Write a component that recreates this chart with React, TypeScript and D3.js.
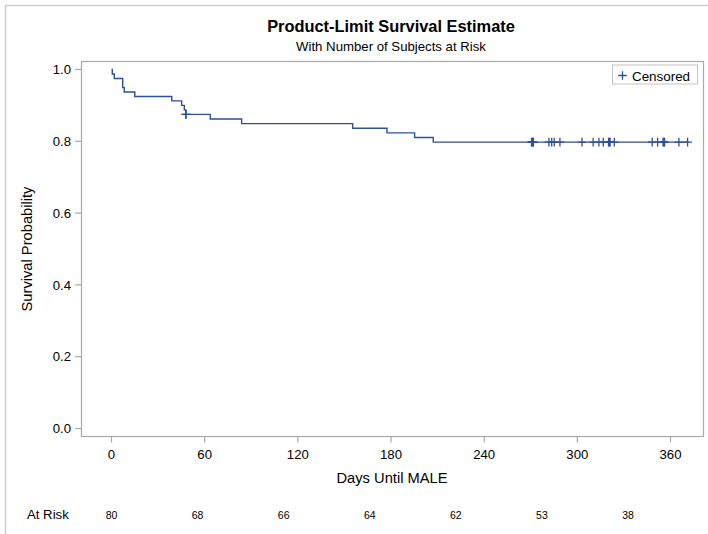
import React from "react";
import * as d3 from "d3";

// ---- data ----
const eventTimes = [0, 0.5, 1.8, 7.2, 8.2, 15.0, 38.8, 45.2, 46.9, 47.8, 63.6, 83.8, 155.3, 177.4, 195.2, 207.2];
const survival = [1, 0.9875, 0.975, 0.95, 0.9375, 0.925, 0.9125, 0.9, 0.8875, 0.875, 0.8621, 0.8493, 0.8364, 0.8236, 0.8107, 0.7978];
const lastTime = 372;
const censorTimes = [47.8, 48.0, 270.5, 270.9, 271.3, 271.7, 281.7, 283.5, 285.1, 288.8, 303.0, 310.2, 313.9, 316.7, 320.1, 320.6, 321.1, 323.8, 348.2, 351.7, 355.2, 355.7, 356.2, 365.4, 371.0];
const xTicks = [0, 60, 120, 180, 240, 300, 360];
const yTicks = [0, 0.2, 0.4, 0.6, 0.8, 1.0];
const atRiskTimes = [0, 60, 120, 180, 240, 300, 360];
const atRiskCounts = [80, 68, 66, 64, 62, 53, 38];

const W = 708;
const H = 534;
const frame = { left: 81.5, top: 61.5, right: 703.5, bottom: 436.5 };
const LINE = "#2E4F9E";
const FONT = "'Liberation Sans', Arial, sans-serif";

function survAt(t: number): number {
  let s = 1;
  for (let i = 0; i < eventTimes.length; i++) {
    if (eventTimes[i] <= t) s = survival[i];
  }
  return s;
}

export default function App() {
  const x = d3.scaleLinear().domain([0, 360]).range([111.5, 670.5]);
  const y = d3.scaleLinear().domain([0, 1]).range([428.5, 69.5]);
  // the at-risk row in the reference uses its own, narrower spacing
  const xRisk = d3.scaleLinear().domain([0, 360]).range([111.5, 628]);

  const pts: [number, number][] = eventTimes.map((t, i) => [t, survival[i]]);
  pts.push([lastTime, survival[survival.length - 1]]);
  const line = d3
    .line<[number, number]>()
    .x((d) => x(d[0]))
    .y((d) => y(d[1]))
    .curve(d3.curveStepAfter);

  const plus = (cx: number, cy: number, r: number) =>
    `M${cx - r},${cy}H${cx + r}M${cx},${cy - r}V${cy + r}`;

  return (
    <svg
      width={W}
      height={H}
      style={{ position: "absolute", left: 0, top: 0, background: "#fff" }}
      fontFamily={FONT}
    >
      <rect x={0} y={0} width={W} height={H} fill="#fff" />
      {/* outer border */}
      <path d={`M5.5,${H}V5.5H${W}`} fill="none" stroke="#CFCFCF" strokeWidth={1.5} />

      {/* titles */}
      <text x={391} y={31.5} textAnchor="middle" fontSize={16.4} fontWeight="bold" fill="#000">
        Product-Limit Survival Estimate
      </text>
      <text x={391} y={51} textAnchor="middle" fontSize={13.2} fill="#000">
        With Number of Subjects at Risk
      </text>

      {/* frame */}
      <rect
        x={frame.left}
        y={frame.top}
        width={frame.right - frame.left}
        height={frame.bottom - frame.top}
        fill="none"
        stroke="#A6A9AD"
        strokeWidth={1.2}
      />

      {/* y axis */}
      {yTicks.map((v) => (
        <g key={"y" + v}>
          <line x1={75} x2={frame.left} y1={y(v)} y2={y(v)} stroke="#A6A9AD" strokeWidth={1.2} />
          <text x={71} y={y(v) + 4.6} textAnchor="end" fontSize={13.2} fill="#000">
            {d3.format(".1f")(v)}
          </text>
        </g>
      ))}
      <text
        transform={`translate(32,${(frame.top + frame.bottom) / 2}) rotate(-90)`}
        textAnchor="middle"
        fontSize={14.7}
        fill="#000"
      >
        Survival Probability
      </text>

      {/* x axis */}
      {xTicks.map((v) => (
        <g key={"x" + v}>
          <line x1={x(v)} x2={x(v)} y1={frame.bottom} y2={frame.bottom + 6} stroke="#A6A9AD" strokeWidth={1.2} />
          <text x={x(v)} y={458.5} textAnchor="middle" fontSize={13.2} fill="#000">
            {v}
          </text>
        </g>
      ))}
      <text x={392} y={483} textAnchor="middle" fontSize={14.7} fill="#000">
        Days Until MALE
      </text>

      {/* survival curve */}
      <path d={line(pts) || ""} fill="none" stroke={LINE} strokeWidth={1.4} />
      {censorTimes.map((t, i) => (
        <path key={"c" + i} d={plus(x(t), y(survAt(t)), 4.3)} stroke={LINE} strokeWidth={1.3} fill="none" />
      ))}

      {/* legend */}
      <rect x={612.5} y={65} width={85} height={19} fill="#fff" stroke="#C4C4C4" strokeWidth={1} />
      <path d={plus(622.5, 75.5, 4.3)} stroke={LINE} strokeWidth={1.3} fill="none" />
      <text x={632} y={80.5} fontSize={13.4} fill="#000">
        Censored
      </text>

      {/* at risk */}
      <text x={27} y={519} fontSize={13.2} fill="#000">
        At Risk
      </text>
      {atRiskTimes.map((t, i) => (
        <text key={"r" + t} x={xRisk(t)} y={518.5} textAnchor="middle" fontSize={10.5} fill="#000">
          {atRiskCounts[i]}
        </text>
      ))}
    </svg>
  );
}
